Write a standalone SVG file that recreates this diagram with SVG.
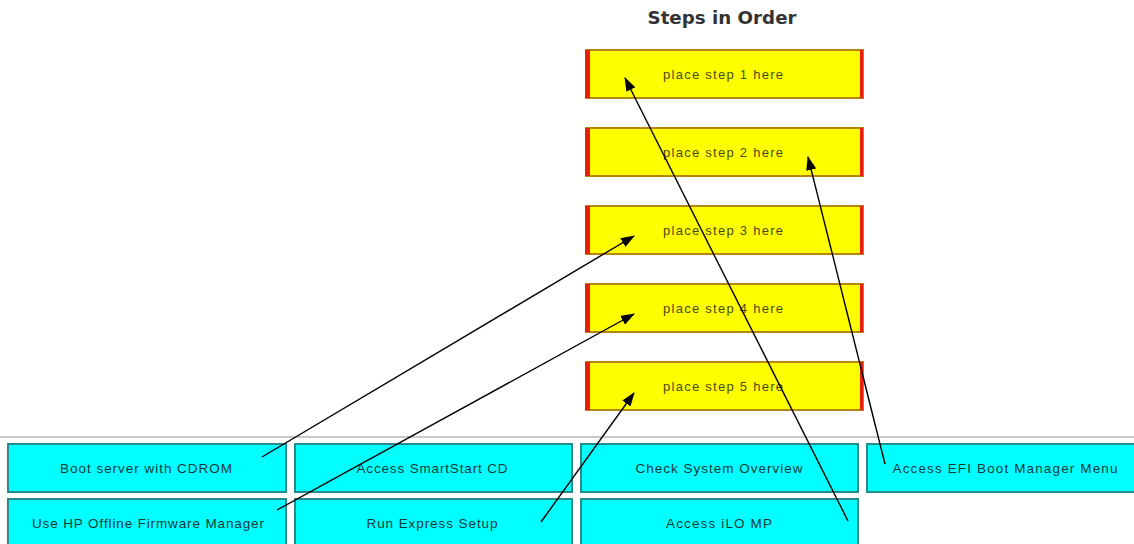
<svg xmlns="http://www.w3.org/2000/svg" width="1134" height="544" viewBox="0 0 1134 544">
<defs>
<style>
.step rect.b{fill:#ffff00;stroke:#b8860b;stroke-width:2}
.step rect.l{fill:#e8200a}
.step text{font-family:"Liberation Sans",Arial,sans-serif;font-size:13px;fill:#4a4a10;text-anchor:middle}
.opt rect{fill:#00ffff;stroke:#2a8a8a;stroke-width:2}
.opt text{font-family:"Liberation Sans",Arial,sans-serif;font-size:13.5px;fill:#103a3a;text-anchor:middle}
.conn line{stroke:#000;stroke-width:1.4;marker-end:url(#ah)}
</style>
<marker id="ah" markerWidth="14" markerHeight="10" refX="13" refY="5" orient="auto" markerUnits="userSpaceOnUse">
<path d="M0,0 L14,5 L0,10 Z" fill="#000"/>
</marker>
</defs>
<rect width="1134" height="544" fill="#fff"/>
<text x="722" y="24" font-family="DejaVu Sans,Verdana,sans-serif" font-size="17" font-weight="bold" fill="#333" text-anchor="middle" textLength="149" lengthAdjust="spacingAndGlyphs">Steps in Order</text>
<line x1="0" y1="437" x2="1134" y2="437" stroke="#c8c8c8" stroke-width="2"/>
<g id="step1" class="step"><rect class="b" x="586" y="50" width="277" height="48"/><rect class="l" x="585" y="50" width="5" height="48"/><rect class="l" x="860" y="50" width="3" height="48"/><text x="723" y="79" textLength="120" lengthAdjust="spacing">place step 1 here</text></g>
<g id="step2" class="step"><rect class="b" x="586" y="128" width="277" height="48"/><rect class="l" x="585" y="128" width="5" height="48"/><rect class="l" x="860" y="128" width="3" height="48"/><text x="723" y="157" textLength="120" lengthAdjust="spacing">place step 2 here</text></g>
<g id="step3" class="step"><rect class="b" x="586" y="206" width="277" height="48"/><rect class="l" x="585" y="206" width="5" height="48"/><rect class="l" x="860" y="206" width="3" height="48"/><text x="723" y="235" textLength="120" lengthAdjust="spacing">place step 3 here</text></g>
<g id="step4" class="step"><rect class="b" x="586" y="284" width="277" height="48"/><rect class="l" x="585" y="284" width="5" height="48"/><rect class="l" x="860" y="284" width="3" height="48"/><text x="723" y="313" textLength="120" lengthAdjust="spacing">place step 4 here</text></g>
<g id="step5" class="step"><rect class="b" x="586" y="362" width="277" height="48"/><rect class="l" x="585" y="362" width="5" height="48"/><rect class="l" x="860" y="362" width="3" height="48"/><text x="723" y="391" textLength="120" lengthAdjust="spacing">place step 5 here</text></g>
<g id="opt1" class="opt"><rect x="8" y="444" width="278" height="48"/><text x="146" y="473" textLength="172" lengthAdjust="spacing">Boot server with CDROM</text></g>
<g id="opt2" class="opt"><rect x="295" y="444" width="277" height="48"/><text x="432" y="473" textLength="151" lengthAdjust="spacing">Access SmartStart CD</text></g>
<g id="opt3" class="opt"><rect x="581" y="444" width="277" height="48"/><text x="719" y="473" textLength="167" lengthAdjust="spacing">Check System Overview</text></g>
<g id="opt4" class="opt"><rect x="867" y="444" width="270" height="48"/><text x="1005" y="473" textLength="225" lengthAdjust="spacing">Access EFI Boot Manager Menu</text></g>
<g id="opt5" class="opt"><rect x="8" y="499" width="278" height="48"/><text x="148" y="528" textLength="232" lengthAdjust="spacing">Use HP Offline Firmware Manager</text></g>
<g id="opt6" class="opt"><rect x="295" y="499" width="277" height="48"/><text x="432" y="528" textLength="131" lengthAdjust="spacing">Run Express Setup</text></g>
<g id="opt7" class="opt"><rect x="581" y="499" width="277" height="48"/><text x="719" y="528" textLength="106" lengthAdjust="spacing">Access iLO MP</text></g>
<g id="connectors" class="conn">
<line x1="262" y1="457" x2="634" y2="236"/>
<line x1="277" y1="510" x2="634" y2="314"/>
<line x1="541" y1="522" x2="634" y2="393"/>
<line x1="848" y1="521" x2="625" y2="78"/>
<line x1="885" y1="464" x2="808" y2="157"/>
</g>
</svg>
